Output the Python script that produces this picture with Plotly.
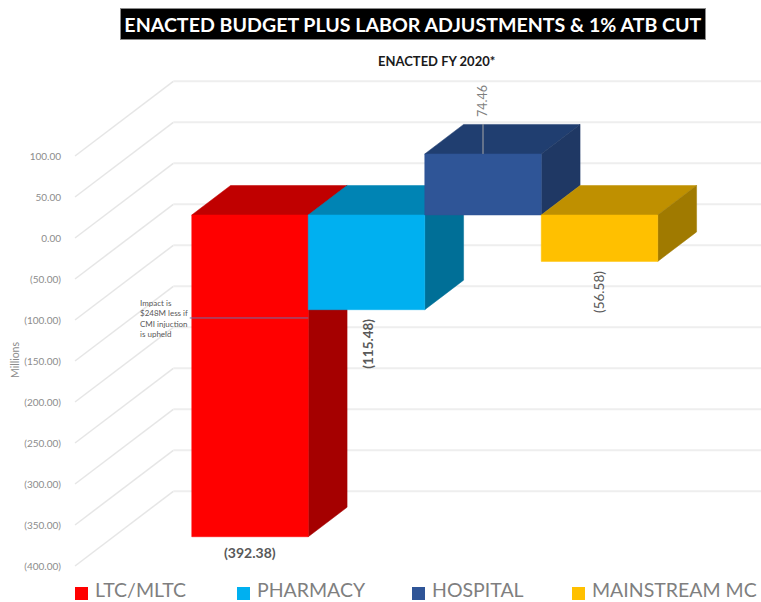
import plotly.graph_objects as go

# ---- data ----
categories = ["LTC/MLTC", "PHARMACY", "HOSPITAL", "MAINSTREAM MC"]
values = [-392.38, -115.48, 74.46, -56.58]
value_labels = ["(392.38)", "(115.48)", "74.46", "(56.58)"]
tick_values = [100, 50, 0, -50, -100, -150, -200, -250, -300, -350, -400]
tick_labels = ["100.00", "50.00", "0.00", "(50.00)", "(100.00)", "(150.00)", "(200.00)",
               "(250.00)", "(300.00)", "(350.00)", "(400.00)"]
title_text = "ENACTED BUDGET PLUS LABOR ADJUSTMENTS &amp; 1% ATB CUT"
subtitle_text = "ENACTED FY 2020*"
note_text = "Impact is<br>$248M less if<br>CMI injuction<br>is upheld"
note_value = -125.6

front_colors = ["#FF0000", "#00B0F0", "#2F5597", "#FFC000"]
top_colors = ["#C00000", "#0084B4", "#203E70", "#BF9000"]
side_colors = ["#A50000", "#006F97", "#1F3864", "#A07A00"]

# ---- geometry ----
W, H = 761, 602
ML, MR, MT, MB = 70, 0, 70, 22
PX_PER_UNIT = 0.82
PX_PER_CAT = 116.5
Y0_PX = 238.0
WALL_DX_PX, WALL_DY_PX = 98.3, 74.7
BAR_FRONT, BAR_BACK = 0.308, 0.703
X0_PX = 250.0 - BAR_FRONT * WALL_DX_PX
WALL_DX = WALL_DX_PX / PX_PER_CAT
WALL_DY = WALL_DY_PX / PX_PER_UNIT
WALL_LEFT = (75 - X0_PX) / PX_PER_CAT
WALL_RIGHT = (761 - X0_PX) / PX_PER_CAT


def px(x):
    return (x - ML) / (W - ML - MR)


def py(y):
    return (H - MB - y) / (H - MT - MB)


def project(cat, value, depth):
    """Front-plane position + oblique depth shift, in data units."""
    return cat + depth * WALL_DX, value + depth * WALL_DY


def poly(points, color, name):
    xs = [p[0] for p in points] + [points[0][0]]
    ys = [p[1] for p in points] + [points[0][1]]
    return go.Scatter(x=xs, y=ys, mode="lines", fill="toself", fillcolor=color,
                      line=dict(color=color, width=0.5), name=name, showlegend=False,
                      hoverinfo="name")


def paper_text(x, y, text, family="Lato", size=12, color="#595959", xanchor="center", **kw):
    return dict(x=px(x), y=py(y), xref="paper", yref="paper", text=text, showarrow=False,
                xanchor=xanchor, yanchor="middle",
                font=dict(family=family, size=size, color=color), **kw)


fig = go.Figure()

# wall / grid
for v in tick_values:
    x_back, y_back = project(WALL_LEFT, v, 1)
    fig.add_trace(go.Scatter(x=[WALL_LEFT, x_back], y=[v, y_back], mode="lines",
                             line=dict(color="#E6E6E6", width=1.5), showlegend=False, hoverinfo="skip"))
    fig.add_trace(go.Scatter(x=[x_back, WALL_RIGHT], y=[y_back, y_back], mode="lines",
                             line=dict(color="#EEEEEE", width=2), showlegend=False, hoverinfo="skip"))

# bars, left to right
for i, (cat, val) in enumerate(zip(categories, values)):
    l, r = i - 0.5, i + 0.5
    f = lambda c, v: project(c, v, BAR_FRONT)
    b = lambda c, v: project(c, v, BAR_BACK)
    hi, lo = max(val, 0), min(val, 0)
    fig.add_trace(poly([f(l, hi), f(r, hi), b(r, hi), b(l, hi)], top_colors[i], cat))
    fig.add_trace(poly([f(r, hi), b(r, hi), b(r, lo), f(r, lo)], side_colors[i], cat))
    fig.add_trace(poly([f(l, hi), f(r, hi), f(r, lo), f(l, lo)], front_colors[i], cat))

# leader lines
hx, hy = project(2, values[2], BAR_FRONT)
fig.add_trace(go.Scatter(x=[hx, hx], y=[hy, hy + 30 / PX_PER_UNIT], mode="lines",
                         line=dict(color="#A6A6A6", width=1), showlegend=False, hoverinfo="skip"))
nx0, ny = project(-0.5 - 2 / PX_PER_CAT, note_value, BAR_FRONT)
nx1, _ = project(0.5, note_value, BAR_FRONT)
fig.add_trace(go.Scatter(x=[nx0, nx1], y=[ny, ny], mode="lines",
                         line=dict(color="#6A70A8", width=1), showlegend=False, hoverinfo="skip"))

annotations = [
    paper_text(413, 24, f"<b>{title_text}</b>", size=19.6, color="#FFFFFF",
               width=584, height=30, bgcolor="#000000", bordercolor="#8A8A8A", borderwidth=1, borderpad=0),
    paper_text(436, 61, f"<b>{subtitle_text}</b>", size=13, color="#1A1A1A"),
    paper_text(15, 360, "Millions", size=10.5, color="#8C8C8C", textangle=-90),
    paper_text(138, 318, note_text, size=8, color="#595959", xanchor="left", align="left"),
]

# value labels
x, y = project(0, values[0], BAR_FRONT)
annotations.append(dict(x=x, y=y - 16 / PX_PER_UNIT, text=f"<b>{value_labels[0]}</b>", showarrow=False,
                        font=dict(family="Lato", size=14, color="#595959")))
x, y = project(1, values[1], BAR_FRONT)
annotations.append(dict(x=x + 1.5 / PX_PER_CAT, y=y - 34 / PX_PER_UNIT, text=f"<b>{value_labels[1]}</b>",
                        textangle=-90, showarrow=False, font=dict(family="Lato", size=13.5, color="#595959")))
annotations.append(dict(x=hx, y=hy + 53 / PX_PER_UNIT, text=value_labels[2], textangle=-90, showarrow=False,
                        font=dict(family="Lato", size=12.5, color="#7F7F7F")))
x, y = project(3, values[3], BAR_FRONT)
annotations.append(dict(x=x, y=y - 31 / PX_PER_UNIT, text=value_labels[3], textangle=-90, showarrow=False,
                        font=dict(family="Lato", size=13.5, color="#595959")))

# legend (swatch + text, independently spaced as in the picture)
legend_x = [75, 237, 412, 572]
shapes = []
for i, cat in enumerate(categories):
    shapes.append(dict(type="rect", xref="paper", yref="paper",
                       x0=px(legend_x[i]), x1=px(legend_x[i] + 13), y0=py(600), y1=py(587),
                       fillcolor=front_colors[i], line=dict(width=0)))
    annotations.append(paper_text(legend_x[i] + 18, 589.5, cat, size=19.5, color="#7F7F7F", xanchor="left"))

fig.update_layout(
    width=W, height=H, paper_bgcolor="#FFFFFF", plot_bgcolor="#FFFFFF",
    margin=dict(l=ML, r=MR, t=MT, b=MB, autoexpand=False), showlegend=False,
    xaxis=dict(visible=False, range=[(ML - X0_PX) / PX_PER_CAT, (W - MR - X0_PX) / PX_PER_CAT], fixedrange=True),
    yaxis=dict(range=[(Y0_PX - (H - MB)) / PX_PER_UNIT, (Y0_PX - MT) / PX_PER_UNIT],
               tickvals=tick_values, ticktext=tick_labels, showgrid=False, zeroline=False,
               showline=False, ticks="outside", ticklen=6, tickcolor="rgba(0,0,0,0)",
               tickfont=dict(family="Lato", size=10, color="#8C8C8C"), fixedrange=True),
    annotations=annotations, shapes=shapes,
)
fig.write_html("out.html", config={"displayModeBar": False},
               post_script="document.body.style.margin='0';document.documentElement.style.overflow='hidden';")
